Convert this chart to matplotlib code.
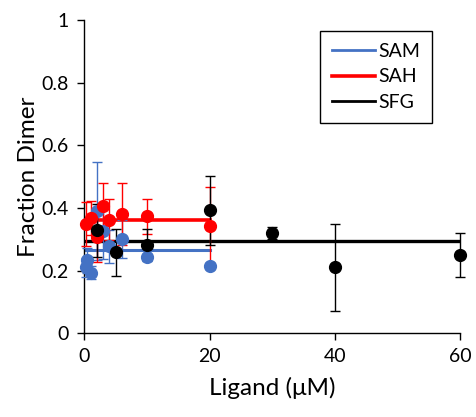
import matplotlib
matplotlib.use("Agg")
import matplotlib.pyplot as plt
from matplotlib.lines import Line2D

plt.rcParams["font.family"] = ["Lato", "DejaVu Sans"]

# SAM (blue)
sam_x = [0.25, 0.5, 1, 2, 3, 4, 6, 10, 20]
sam_y = [0.21, 0.233, 0.193, 0.39, 0.327, 0.278, 0.30, 0.242, 0.214]
sam_err = [0.03, 0.04, 0.02, 0.157, 0.09, 0.053, 0.06, 0.01, 0.01]
sam_fit = 0.265

# SAH (red)
sah_x = [0.25, 1, 2, 3, 4, 6, 10, 20]
sah_y = [0.348, 0.368, 0.306, 0.406, 0.363, 0.38, 0.374, 0.342]
sah_err = [0.07, 0.054, 0.08, 0.075, 0.067, 0.1, 0.056, 0.125]
sah_fit = 0.361

# SFG (black)
sfg_x = [2, 5, 10, 20, 30, 40, 60]
sfg_y = [0.329, 0.258, 0.283, 0.392, 0.32, 0.21, 0.25]
sfg_err = [0.085, 0.075, 0.05, 0.11, 0.02, 0.14, 0.07]
sfg_fit = 0.294

blue = "#4472C4"
red = "#FF0000"
black = "#000000"

fig = plt.figure(figsize=(4.76, 4.17), dpi=100)
ax = fig.add_axes([0.177, 0.201, 0.79, 0.751])

# fitted flat lines
ax.plot([0, 20], [sam_fit, sam_fit], color=blue, lw=2.2, zorder=2)
ax.plot([0, 20], [sah_fit, sah_fit], color=red, lw=2.6, zorder=2)
ax.plot([0, 60], [sfg_fit, sfg_fit], color=black, lw=2.4, zorder=2)

# points with error bars
for x, y, e, c in [(sam_x, sam_y, sam_err, blue),
                   (sah_x, sah_y, sah_err, red),
                   (sfg_x, sfg_y, sfg_err, black)]:
    ax.errorbar(x, y, yerr=e, fmt="o", color=c, ms=8.5, elinewidth=1,
                capsize=3.5, capthick=1, zorder=3, clip_on=False)

ax.set_xlim(0, 60)
ax.set_ylim(0, 1)
ax.set_xticks([0, 20, 40, 60])
ax.set_yticks([0, 0.2, 0.4, 0.6, 0.8, 1])
ax.set_yticklabels(["0", "0.2", "0.4", "0.6", "0.8", "1"])
ax.spines["top"].set_visible(False)
ax.spines["right"].set_visible(False)
for s in ["left", "bottom"]:
    ax.spines[s].set_linewidth(1)
ax.tick_params(direction="out", length=5, width=1, labelsize=14, pad=6)

ax.set_xlabel("Ligand (μM)", fontsize=17.5, labelpad=8)
ax.set_ylabel("Fraction Dimer", fontsize=17.5, labelpad=2)

handles = [Line2D([], [], color=blue, lw=2),
           Line2D([], [], color=red, lw=2.6),
           Line2D([], [], color=black, lw=2)]
leg = ax.legend(handles, ["SAM", "SAH", "SFG"], loc="upper left",
                bbox_to_anchor=(0.628, 0.965), borderaxespad=0,
                fontsize=14, fancybox=False,
                edgecolor="black", framealpha=1, handlelength=2.2,
                handletextpad=0.2, borderpad=0.6, labelspacing=0.45)
leg.get_frame().set_linewidth(1)

fig.savefig("out.png", dpi=100)
